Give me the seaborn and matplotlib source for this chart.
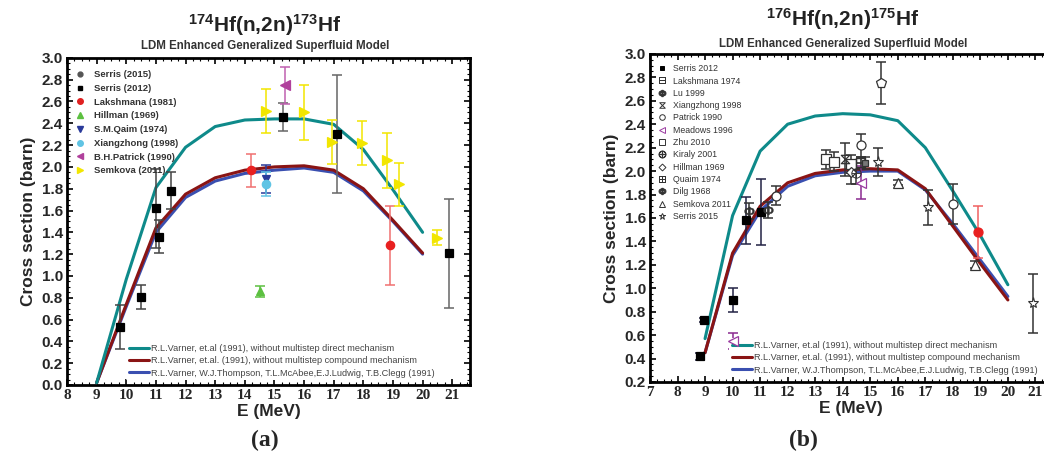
import numpy as np
import matplotlib
matplotlib.use("Agg")
import matplotlib.pyplot as plt
from matplotlib.lines import Line2D
from matplotlib.path import Path
from matplotlib.ticker import MultipleLocator
import seaborn as sns

# ---------------- data: panel (a) 174Hf(n,2n)173Hf ----------------
e_model = [9, 10, 11, 12, 13, 14, 15, 16, 17, 18, 19, 20]
a_no_msd = [0.02, 0.97, 1.81, 2.18, 2.37, 2.43, 2.44, 2.44, 2.39, 2.16, 1.79, 1.40]
a_no_msc = [0.02, 0.74, 1.44, 1.75, 1.90, 1.97, 2.00, 2.01, 1.97, 1.80, 1.51, 1.21]
a_full = [0.02, 0.72, 1.40, 1.72, 1.87, 1.94, 1.97, 1.99, 1.95, 1.78, 1.50, 1.20]

a_serris15_x = [15.3, 17.1, 20.9]
a_serris15_y = [2.46, 2.30, 1.21]
a_serris15_err = [0.13, 0.54, 0.50]
a_serris12_x = [9.8, 10.5, 11.0, 11.1, 11.5]
a_serris12_y = [0.53, 0.81, 1.62, 1.36, 1.78]
a_serris12_err = [0.20, 0.11, 0.36, 0.15, 0.17]
a_laksh_x = [14.2, 18.9]
a_laksh_y = [1.97, 1.28]
a_laksh_err = [0.15, 0.36]
a_hill_x = [14.5]
a_hill_y = [0.86]
a_hill_err = [0.05]
a_qaim_x = [14.7]
a_qaim_y = [1.89]
a_qaim_err = [0.13]
a_xiang_x = [14.7]
a_xiang_y = [1.84]
a_xiang_err = [0.11]
a_patrick_x = [15.35]
a_patrick_y = [2.75]
a_patrick_err = [0.17]
a_semkova_x = [14.7, 16.0, 16.95, 17.95, 18.8, 19.2, 20.5]
a_semkova_y = [2.51, 2.50, 2.23, 2.22, 2.06, 1.84, 1.35]
a_semkova_err = [0.20, 0.25, 0.20, 0.20, 0.25, 0.20, 0.07]

# ---------------- data: panel (b) 176Hf(n,2n)175Hf ----------------
b_no_msd = [0.57, 1.62, 2.17, 2.40, 2.47, 2.49, 2.48, 2.43, 2.20, 1.83, 1.45, 1.03]
b_no_msc = [0.45, 1.30, 1.70, 1.90, 1.98, 2.01, 2.02, 2.01, 1.85, 1.53, 1.21, 0.90]
b_full = [0.45, 1.28, 1.66, 1.87, 1.96, 1.99, 2.00, 2.00, 1.84, 1.55, 1.24, 0.93]

b_serris12_x = [8.82, 8.97, 10.0, 10.5, 11.03]
b_serris12_y = [0.42, 0.73, 0.90, 1.58, 1.65]
b_serris12_err = [0.03, 0.02, 0.10, 0.20, 0.28]
b_laksh_x = [14.8]
b_laksh_y = [2.07]
b_laksh_err = [0.05]
b_lu_x = [10.6, 11.27]
b_lu_y = [1.66, 1.67]
b_lu_err = [0.07, 0.07]
b_xiang_x = [14.1]
b_xiang_y = [2.10]
b_xiang_err = [0.14]
b_patrick_x = [15.4]
b_patrick_y = [2.75]
b_patrick_err = [0.18]
b_meadows_x = [10.0, 14.67]
b_meadows_y = [0.55, 1.90]
b_meadows_err = [0.07, 0.14]
b_zhu_x = [13.4, 13.67, 14.31]
b_zhu_y = [2.10, 2.08, 2.06]
b_zhu_err = [0.08, 0.08, 0.08]
b_kiraly_x = [14.5]
b_kiraly_y = [1.98]
b_kiraly_err = [0.09]
b_hill_x = [14.3]
b_hill_y = [1.99]
b_hill_err = [0.10]
b_quaim_x = [14.67]
b_quaim_y = [2.07]
b_quaim_err = [0.05]
b_dilg_x = [11.58, 14.67, 18.0]
b_dilg_y = [1.79, 2.22, 1.72]
b_dilg_err = [0.08, 0.10, 0.17]
b_semkova_x = [16.0, 18.8]
b_semkova_y = [1.90, 1.20]
b_semkova_err = [0.02, 0.03]
b_serris15_x = [15.28, 17.1, 20.9]
b_serris15_y = [2.08, 1.69, 0.87]
b_serris15_err = [0.12, 0.15, 0.25]
b_red_x = [18.9]
b_red_y = [1.48]
b_red_err = [0.22]

model_labels = ["R.L.Varner, et.al (1991), without multistep direct mechanism",
                "R.L.Varner, et.al. (1991), without multistep compound mechanism",
                "R.L.Varner, W.J.Thompson, T.L.McAbee,E.J.Ludwig, T.B.Clegg (1991)"]

TEAL = "#0e8a8a"
MAROON = "#8a1414"
BLUE = "#3a4fb0"

sns.set_style("ticks")
plt.rcParams['font.family'] = ['Liberation Sans', 'DejaVu Sans']
plt.rcParams['mathtext.fontset'] = 'custom'
plt.rcParams['mathtext.rm'] = 'Liberation Sans:bold'
plt.rcParams['mathtext.bf'] = 'Liberation Sans:bold'
plt.rcParams['mathtext.it'] = 'Liberation Sans:bold'

hourglass = Path([(-1, 1), (1, 1), (-1, -1), (1, -1), (-1, 1)],
                 [Path.MOVETO, Path.LINETO, Path.LINETO, Path.LINETO, Path.CLOSEPOLY])

fig = plt.figure(figsize=(10.44, 4.68), dpi=100)
ax_a = fig.add_axes([0.0642, 0.1774, 0.386, 0.699])
ax_b = fig.add_axes([0.6226, 0.1838, 0.385, 0.701])


def draw_models(ax, msd, msc, full):
    sns.lineplot(x=e_model, y=full, ax=ax, color=BLUE, lw=2.2, label=model_labels[2], zorder=2)
    sns.lineplot(x=e_model, y=msc, ax=ax, color=MAROON, lw=2.2, label=model_labels[1], zorder=3)
    sns.lineplot(x=e_model, y=msd, ax=ax, color=TEAL, lw=2.2, label=model_labels[0], zorder=4)


def pts(ax, x, y, err, marker, mfc, mec, ecolor, ms=6, mew=0.9):
    ax.errorbar(x, y, yerr=err, fmt='none', ecolor=ecolor, elinewidth=1.1,
                capsize=3.5, capthick=1.1, zorder=5)
    ax.plot(x, y, ls='none', marker=marker, ms=ms, mfc=mfc, mec=mec, mew=mew, zorder=6)


def style_axes(ax, xlim, ylim):
    ax.set_xlim(*xlim)
    ax.set_ylim(*ylim)
    ax.xaxis.set_major_locator(MultipleLocator(1))
    ax.xaxis.set_minor_locator(MultipleLocator(0.25))
    ax.yaxis.set_major_locator(MultipleLocator(0.2))
    ax.yaxis.set_minor_locator(MultipleLocator(0.05))
    ax.tick_params(which='both', direction='in', top=True, right=True, color='black')
    ax.tick_params(which='major', length=4, width=1.2, pad=3)
    ax.tick_params(which='minor', length=2, width=0.8)
    for s in ax.spines.values():
        s.set_linewidth(2.0)
        s.set_color('black')
    for lab in ax.get_xticklabels():
        lab.set_fontfamily('Liberation Serif')
        lab.set_fontweight('bold')
        lab.set_fontsize(11)
    for lab in ax.get_yticklabels():
        lab.set_fontweight('bold')
        lab.set_fontsize(11)
    ax.set_xlabel("E (MeV)", fontsize=12.5, fontweight='bold', labelpad=1)
    ax.set_ylabel("Cross section (barn)", fontsize=12.5, fontweight='bold', labelpad=4)


def line_legend(ax, x0):
    h, l = ax.get_legend_handles_labels()
    leg = ax.legend(h[::-1], l[::-1], loc='lower left', bbox_to_anchor=(x0, 0.0),
                    fontsize=6.6, frameon=True, facecolor='white', edgecolor='none',
                    framealpha=1, handlelength=2.2, handletextpad=0.2, labelspacing=0.35,
                    borderpad=0.3, labelcolor='#444444')
    ax.add_artist(leg)


# ---------------- panel (a) ----------------
draw_models(ax_a, a_no_msd, a_no_msc, a_full)
pts(ax_a, a_serris12_x, a_serris12_y, a_serris12_err, 's', 'black', 'black', '#444444')
pts(ax_a, a_serris15_x, a_serris15_y, a_serris15_err, 's', 'black', 'black', '#666666')
pts(ax_a, a_laksh_x, a_laksh_y, a_laksh_err, 'o', '#e82020', '#e82020', '#f07070')
pts(ax_a, a_hill_x, a_hill_y, a_hill_err, '^', '#5cc040', '#5cc040', '#5cc040')
pts(ax_a, a_qaim_x, a_qaim_y, a_qaim_err, 'v', '#2a3a9a', '#2a3a9a', '#2a3a9a')
pts(ax_a, a_xiang_x, a_xiang_y, a_xiang_err, 'o', '#60c4e4', '#60c4e4', '#60c4e4')
pts(ax_a, a_patrick_x, a_patrick_y, a_patrick_err, '<', '#b0409c', '#b0409c', '#c060b0', ms=7)
pts(ax_a, a_semkova_x, a_semkova_y, a_semkova_err, '>', '#f2e600', '#f2e600', '#f2e600', ms=7)
style_axes(ax_a, (8, 21.6), (0, 3.0))
line_legend(ax_a, 0.135)

mk_a = [
    Line2D([], [], ls='none', marker='o', ms=3.5, color='#555555', label='Serris (2015)'),
    Line2D([], [], ls='none', marker='s', ms=3.5, color='black', label='Serris (2012)'),
    Line2D([], [], ls='none', marker='o', ms=4, color='#e02020', label='Lakshmana (1981)'),
    Line2D([], [], ls='none', marker='^', ms=4, color='#5cc040', label='Hillman (1969)'),
    Line2D([], [], ls='none', marker='v', ms=4, color='#2a3a9a', label='S.M.Qaim (1974)'),
    Line2D([], [], ls='none', marker='o', ms=4, color='#60c4e4', label='Xiangzhong (1998)'),
    Line2D([], [], ls='none', marker='<', ms=4, color='#b0409c', label='B.H.Patrick (1990)'),
    Line2D([], [], ls='none', marker='>', ms=4, color='#f2e600', label='Semkova (2011)'),
]
leg_a = ax_a.legend(handles=mk_a, loc='upper left', bbox_to_anchor=(0.0, 0.985),
                    frameon=False, prop={'size': 6.8, 'weight': 'bold'},
                    handlelength=1.2, handletextpad=0.9, labelspacing=0.5, borderpad=0.3)
for t in leg_a.get_texts():
    t.set_color('#333333')

# ---------------- panel (b) ----------------
draw_models(ax_b, b_no_msd, b_no_msc, b_full)
pts(ax_b, b_serris12_x, b_serris12_y, b_serris12_err, 's', 'black', 'black', '#222244', ms=6)
pts(ax_b, b_zhu_x, b_zhu_y, b_zhu_err, 's', 'white', '#333333', '#333333', ms=6.5)
pts(ax_b, b_xiang_x, b_xiang_y, b_xiang_err, hourglass, 'none', '#333333', '#333333', ms=6)
pts(ax_b, b_lu_x, b_lu_y, b_lu_err, '$\\Phi$', '#333333', '#333333', '#333333', ms=7, mew=0.3)
pts(ax_b, b_dilg_x, b_dilg_y, b_dilg_err, 'o', 'white', '#333333', '#333333', ms=6.5)
pts(ax_b, b_hill_x, b_hill_y, b_hill_err, 'D', 'white', '#333333', '#333333', ms=5.5)
pts(ax_b, b_kiraly_x, b_kiraly_y, b_kiraly_err, '$\\oplus$', '#333333', '#333333', '#333333', ms=7, mew=0.3)
pts(ax_b, b_quaim_x, b_quaim_y, b_quaim_err, '$\\boxplus$', '#333333', '#333333', '#333333', ms=7, mew=0.3)
pts(ax_b, b_laksh_x, b_laksh_y, b_laksh_err, 's', '#777777', '#333333', '#333333', ms=5)
pts(ax_b, b_meadows_x, b_meadows_y, b_meadows_err, '<', 'white', '#9a3aa0', '#8a2a90', ms=6.5)
pts(ax_b, b_patrick_x, b_patrick_y, b_patrick_err, 'p', 'white', '#333333', '#333333', ms=7)
pts(ax_b, b_semkova_x, b_semkova_y, b_semkova_err, '^', 'white', '#333333', '#333333', ms=6.5)
pts(ax_b, b_serris15_x, b_serris15_y, b_serris15_err, '*', 'white', '#333333', '#333333', ms=8, mew=0.8)
pts(ax_b, b_red_x, b_red_y, b_red_err, 'o', '#e82020', '#e82020', '#f06060', ms=6.5)
style_axes(ax_b, (7, 21.6), (0.2, 3.0))
line_legend(ax_b, 0.185)


def mk(marker, label, fc='none', ec='#333333', ms=4):
    return Line2D([], [], ls='none', marker=marker, ms=ms, mfc=fc, mec=ec, mew=0.7, label=label)


mk_b = [
    mk('s', 'Serris 2012', fc='black', ec='black', ms=3.5),
    mk('$\\boxminus$', 'Lakshmana 1974', fc='#333333', ms=5),
    mk('$\\Phi$', 'Lu 1999', fc='#333333', ms=5),
    mk(hourglass, 'Xiangzhong 1998'),
    mk('o', 'Patrick 1990'),
    mk('<', 'Meadows 1996', ec='#9a3aa0'),
    mk('s', 'Zhu 2010'),
    mk('$\\oplus$', 'Kiraly 2001', fc='#333333', ms=5),
    mk('D', 'Hillman 1969', ms=3.5),
    mk('$\\boxplus$', 'Quaim 1974', fc='#333333', ms=5),
    mk('$\\Phi$', 'Dilg 1968', fc='#333333', ms=5),
    mk('^', 'Semkova 2011'),
    mk('*', 'Serris 2015', ms=5),
]
leg_b = ax_b.legend(handles=mk_b, loc='upper left', bbox_to_anchor=(0.0, 0.99),
                    frameon=False, prop={'size': 6.3},
                    handlelength=1.2, handletextpad=0.6, labelspacing=0.38, borderpad=0.3)
for t in leg_b.get_texts():
    t.set_color('#333333')

# ---------------- titles and panel letters ----------------
fig.text(265 / 1044, 1 - 25 / 468, "$^{174}$Hf(n,2n)$^{173}$Hf", ha='center',
         va='center', fontsize=15, fontweight='bold', color='#222222')
fig.text(265 / 1044, 1 - 46 / 468, "LDM Enhanced Generalized Superfluid Model", ha='center',
         va='center', fontsize=8.3, fontweight='bold', color='#333333')
fig.text(843 / 1044, 1 - 19 / 468, "$^{176}$Hf(n,2n)$^{175}$Hf", ha='center',
         va='center', fontsize=15, fontweight='bold', color='#222222')
fig.text(843 / 1044, 1 - 44 / 468, "LDM Enhanced Generalized Superfluid Model", ha='center',
         va='center', fontsize=8.3, fontweight='bold', color='#333333')
fig.text(265 / 1044, 1 - 440 / 468, "(a)", ha='center', va='center', fontsize=17,
         fontweight='bold', family='Liberation Serif')
fig.text(803 / 1044, 1 - 440 / 468, "(b)", ha='center', va='center', fontsize=17,
         fontweight='bold', family='Liberation Serif')

fig.savefig("out.png", dpi=100)
